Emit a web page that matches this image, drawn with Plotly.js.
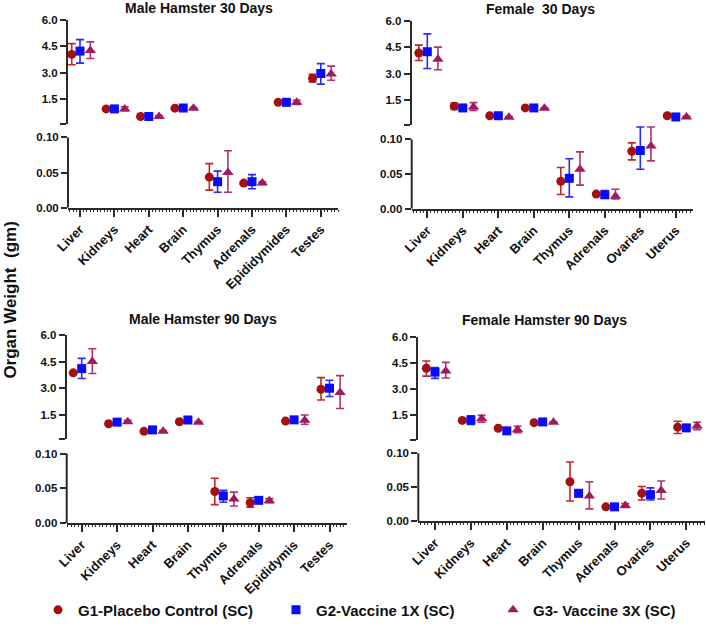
<!DOCTYPE html>
<html><head><meta charset="utf-8">
<script src="https://cdn.plot.ly/plotly-3.0.1.min.js"></script>
<style>html,body{margin:0;padding:0;background:#fff}#chart{width:706px;height:627px}</style>
</head><body><div id="chart"></div>
<script>
// ---------- DATA ----------
const groups = ['G1-Placebo Control (SC)', 'G2-Vaccine 1X (SC)', 'G3- Vaccine 3X (SC)'];
const panelTitles = ['Male Hamster 30 Days', 'Female  30 Days', 'Male Hamster 90 Days', 'Female Hamster 90 Days'];
const organsM30 = ['Liver','Kidneys','Heart','Brain','Thymus','Adrenals','Epididymides','Testes'];
const organsF30 = ['Liver','Kidneys','Heart','Brain','Thymus','Adrenals','Ovaries','Uterus'];
const organsM90 = ['Liver','Kidneys','Heart','Brain','Thymus','Adrenals','Epididymis','Testes'];
const organsF90 = ['Liver','Kidneys','Heart','Brain','Thymus','Adrenals','Ovaries','Uterus'];
const smallOrgans = ['Thymus','Adrenals','Ovaries'];

// Male 30 days
const m30_G1 = [4.04, 0.96, 0.53, 1.00, 0.0434, 0.035, 1.33, 2.69];
const m30_G1_hi = [4.65, 0.99, 0.53, 1.00, 0.0627, 0.037, 1.33, 2.92];
const m30_G1_lo = [3.46, 0.93, 0.53, 1.00, 0.025, 0.033, 1.33, 2.49];
const m30_G2 = [4.23, 0.96, 0.53, 1.01, 0.037, 0.037, 1.33, 2.96];
const m30_G2_hi = [4.88, 1.02, 0.56, 1.04, 0.052, 0.047, 1.38, 3.52];
const m30_G2_lo = [3.55, 0.90, 0.50, 0.98, 0.022, 0.027, 1.28, 2.36];
const m30_G3 = [4.26, 0.96, 0.53, 1.00, 0.050, 0.035, 1.33, 2.94];
const m30_G3_hi = [4.75, 1.08, 0.58, 1.04, 0.081, 0.037, 1.45, 3.38];
const m30_G3_lo = [3.81, 0.86, 0.48, 0.96, 0.022, 0.033, 1.21, 2.58];

// Female 30 days
const f30_G1 = [4.18, 1.17, 0.63, 1.07, 0.0395, 0.021, 0.083, 0.63];
const f30_G1_hi = [4.62, 1.35, 0.63, 1.07, 0.0595, 0.022, 0.095, 0.70];
const f30_G1_lo = [3.75, 0.98, 0.63, 1.07, 0.0205, 0.020, 0.0705, 0.56];
const f30_G2 = [4.25, 1.07, 0.63, 1.07, 0.0438, 0.020, 0.084, 0.56];
const f30_G2_hi = [5.26, 1.10, 0.66, 1.10, 0.072, 0.026, 0.118, 0.58];
const f30_G2_lo = [3.30, 1.04, 0.60, 1.04, 0.017, 0.015, 0.057, 0.54];
const f30_G3 = [3.83, 1.13, 0.54, 1.05, 0.057, 0.018, 0.0905, 0.56];
const f30_G3_hi = [4.51, 1.37, 0.58, 1.08, 0.082, 0.028, 0.118, 0.60];
const f30_G3_lo = [3.23, 0.93, 0.50, 1.02, 0.034, 0.014, 0.069, 0.52];

// Male 90 days
const m90_G1 = [3.87, 0.99, 0.56, 1.10, 0.0455, 0.0294, 1.14, 2.94];
const m90_G1_hi = [3.87, 0.99, 0.56, 1.10, 0.0645, 0.0365, 1.14, 3.60];
const m90_G1_lo = [3.87, 0.99, 0.56, 1.10, 0.0265, 0.0230, 1.14, 2.33];
const m90_G2 = [4.11, 1.08, 0.64, 1.20, 0.039, 0.0327, 1.21, 3.00];
const m90_G2_hi = [4.69, 1.13, 0.68, 1.24, 0.047, 0.0345, 1.26, 3.45];
const m90_G2_lo = [3.55, 1.03, 0.60, 1.16, 0.030, 0.0310, 1.16, 2.53];
const m90_G3 = [4.51, 1.10, 0.56, 1.08, 0.0346, 0.0322, 1.18, 2.76];
const m90_G3_hi = [5.23, 1.18, 0.60, 1.12, 0.0445, 0.0352, 1.48, 3.71];
const m90_G3_lo = [3.83, 1.02, 0.52, 1.04, 0.0246, 0.0292, 0.96, 1.85];

// Female 90 days
const f90_G1 = [4.20, 1.21, 0.76, 1.08, 0.058, 0.021, 0.041, 0.82];
const f90_G1_hi = [4.62, 1.24, 0.81, 1.08, 0.087, 0.021, 0.051, 1.16];
const f90_G1_lo = [3.75, 1.18, 0.71, 1.08, 0.0296, 0.021, 0.031, 0.46];
const f90_G2 = [3.98, 1.23, 0.61, 1.12, 0.041, 0.021, 0.039, 0.78];
const f90_G2_hi = [4.24, 1.48, 0.64, 1.15, 0.046, 0.022, 0.049, 0.93];
const f90_G2_lo = [3.62, 0.98, 0.58, 1.09, 0.036, 0.020, 0.031, 0.63];
const f90_G3 = [4.05, 1.31, 0.68, 1.10, 0.037, 0.023, 0.045, 0.89];
const f90_G3_hi = [4.54, 1.50, 0.87, 1.13, 0.058, 0.026, 0.059, 1.10];
const f90_G3_lo = [3.64, 1.10, 0.50, 1.07, 0.018, 0.020, 0.0325, 0.68];

const upperTicks = [0.1, 1.5, 3.0, 4.5, 6.0];
const upperTickText = ['', '1.5', '3.0', '4.5', '6.0'];
const lowerTicks = [0, 0.05, 0.10];
const lowerTickText = ['0.00', '0.05', '0.10'];
const lowerTop = 0.10;

// ---------- STYLE / LAYOUT ----------
const W = 706, H = 627;
const colors = ['#a3100f', '#0a0aff', '#a01a5e'];
const errColors = ['#c0262a', '#2a2aff', '#b3306f'];
const symbols = ['circle', 'square', 'triangle-up'];
const sizes = [9, 9, 10];
const offsets = [-0.24, 0, 0.3];
const FONT = 'Liberation Sans, Arial, sans-serif';
const AX = '#2a2a2a';

const panels = [
  {organs: organsM30, data: [[m30_G1,m30_G1_hi,m30_G1_lo],[m30_G2,m30_G2_hi,m30_G2_lo],[m30_G3,m30_G3_hi,m30_G3_lo]],
   px: [68, 338], tick0: 80, sp: 34.4, up: [20, 125.5], lo: [139, 210], title: [199, 8]},
  {organs: organsF30, data: [[f30_G1,f30_G1_hi,f30_G1_lo],[f30_G2,f30_G2_hi,f30_G2_lo],[f30_G3,f30_G3_hi,f30_G3_lo]],
   px: [411.7, 693], tick0: 427.3, sp: 35.5, up: [21, 126.5], lo: [141, 211], title: [540, 9]},
  {organs: organsM90, data: [[m90_G1,m90_G1_hi,m90_G1_lo],[m90_G2,m90_G2_hi,m90_G2_lo],[m90_G3,m90_G3_hi,m90_G3_lo]],
   px: [66.7, 346.7], tick0: 81.7, sp: 35.4, up: [339, 444.4], lo: [458.7, 529], title: [202.5, 323]},
  {organs: organsF90, data: [[f90_G1,f90_G1_hi,f90_G1_lo],[f90_G2,f90_G2_hi,f90_G2_lo],[f90_G3,f90_G3_hi,f90_G3_lo]],
   px: [418.3, 705], tick0: 435, sp: 35.9, up: [340.7, 444.7], lo: [458.3, 527], title: [544.5, 324]}
];

const fx = p => p / W;
const fy = p => 1 - p / H;
const traces = [];
const layout = {
  width: W, height: H, margin: {l: 0, r: 0, t: 0, b: 0},
  paper_bgcolor: '#fff', plot_bgcolor: 'rgba(0,0,0,0)',
  font: {family: FONT, color: '#111'},
  showlegend: true, annotations: [], shapes: []
};

const axisBase = {showgrid: false, zeroline: false, ticks: 'outside', tickcolor: AX, tickwidth: 2, fixedrange: true};

panels.forEach((P, p) => {
  const xi = p + 1, yl = 2 * p + 1, yu = 2 * p + 2;
  const xName = xi === 1 ? 'x' : 'x' + xi;
  const ylName = yl === 1 ? 'y' : 'y' + yl;
  const yuName = 'y' + yu;
  const r0 = (P.px[0] - P.tick0) / P.sp, r1 = (P.px[1] - P.tick0) / P.sp;
  layout[xi === 1 ? 'xaxis' : 'xaxis' + xi] = Object.assign({}, axisBase, {
    showline: true, linecolor: AX, linewidth: 2,
    domain: [fx(P.px[0]), fx(P.px[1])], range: [r0, r1], anchor: ylName,
    tickvals: P.organs.map((o, i) => i), ticktext: P.organs, tickangle: -45, ticklen: 7,
    tickfont: {family: FONT, size: 13, color: '#111', weight: 'bold'},
    minor: {dtick: 0.1, tick0: 0, ticks: 'outside', ticklen: 2, tickwidth: 1, tickcolor: AX}
  });
  // lower axis extends through the gap (so long error bars are not cut); its line stops at 0.10
  const extTop = lowerTop * (P.lo[1] - P.up[1]) / (P.lo[1] - P.lo[0]);
  layout[yl === 1 ? 'yaxis' : 'yaxis' + yl] = Object.assign({}, axisBase, {
    showline: false,
    domain: [fy(P.lo[1]), fy(P.up[1])], range: [0, extTop], anchor: xName,
    tickvals: lowerTicks, ticktext: lowerTickText, ticklen: 6,
    tickfont: {family: FONT, size: 11.5, color: '#111', weight: 'bold'}
  });
  layout.shapes.push({type: 'line', xref: xName + ' domain', yref: ylName, x0: 0, x1: 0, y0: 0, y1: lowerTop,
    line: {color: AX, width: 2}, layer: 'above'});
  layout['yaxis' + yu] = Object.assign({}, axisBase, {
    showline: true, linecolor: AX, linewidth: 2,
    domain: [fy(P.up[1]), fy(P.up[0])], range: [0.1, 6.0], anchor: xName,
    tickvals: upperTicks, ticktext: upperTickText, ticklen: 6,
    tickfont: {family: FONT, size: 11.5, color: '#111', weight: 'bold'}
  });
  layout.annotations.push({text: panelTitles[p], xref: 'paper', yref: 'paper', x: fx(P.title[0]), y: fy(P.title[1]),
    xanchor: 'center', yanchor: 'middle', showarrow: false,
    font: {family: FONT, size: 14, color: '#111', weight: 'bold'}});

  P.data.forEach((G, g) => {
    const [mean, hi, lo] = G;
    ['upper', 'lower'].forEach(seg => {
      const idx = P.organs.map((o, i) => i).filter(i => (smallOrgans.indexOf(P.organs[i]) >= 0) === (seg === 'lower'));
      const tr = {
        type: 'scatter', mode: 'markers', xaxis: xName, yaxis: seg === 'lower' ? ylName : yuName,
        x: idx.map(i => i + offsets[g]), y: idx.map(i => mean[i]),
        name: groups[g], cliponaxis: false, hoverinfo: 'skip',
        marker: {symbol: symbols[g], size: sizes[g], color: colors[g], line: {width: 0}},
        error_y: {type: 'data', symmetric: false, array: idx.map(i => hi[i] - mean[i]),
          arrayminus: idx.map(i => mean[i] - lo[i]), color: errColors[g], thickness: 1.6, width: 4},
        showlegend: false
      };
      if (p === 0 && seg === 'upper') {
        tr.showlegend = true;
        tr.legend = g === 0 ? 'legend' : 'legend' + (g + 1);
      }
      traces.push(tr);
    });
  });
});

// Legends (one per group so each entry sits where the reference has it)
const legendLeft = [38, 276, 493];
legendLeft.forEach((lx, g) => {
  layout[g === 0 ? 'legend' : 'legend' + (g + 1)] = {
    x: fx(lx), y: fy(617), xanchor: 'left', yanchor: 'middle', orientation: 'h',
    bgcolor: 'rgba(0,0,0,0)', borderwidth: 0,
    font: {family: FONT, size: 15, color: '#111', weight: 'bold'}
  };
});

layout.annotations.push({text: 'Organ Weight  (gm)', xref: 'paper', yref: 'paper', x: fx(11), y: fy(304),
  xanchor: 'center', yanchor: 'middle', textangle: -90, showarrow: false,
  font: {family: FONT, size: 17, color: '#111', weight: 'bold'}});

Plotly.newPlot('chart', traces, layout, {displayModeBar: false, staticPlot: true});
</script></body></html>
